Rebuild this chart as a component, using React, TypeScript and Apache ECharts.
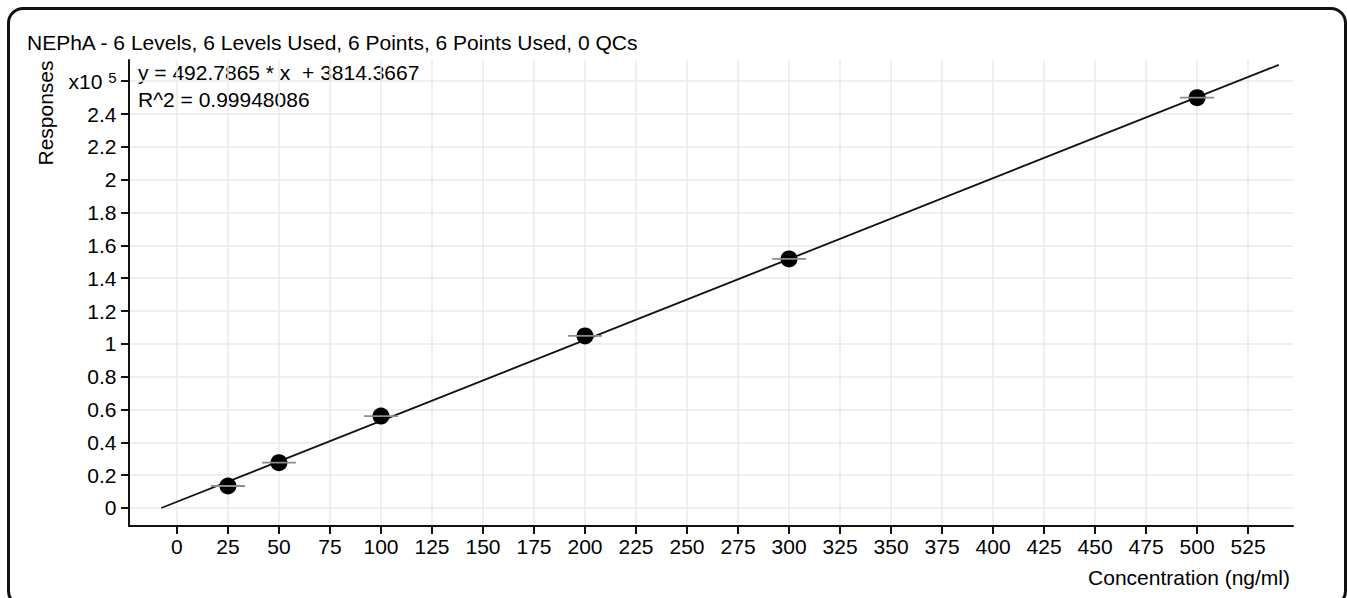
import React, { useEffect, useRef } from "react";
import * as echarts from "echarts";

const concentrations = [25, 50, 100, 200, 300, 500];
const responses = [13400, 27600, 56000, 104800, 151700, 249950];
const fitX = [-7.7, 540];
const fitY = [0, 269900];
const xTicks = [0, 25, 50, 75, 100, 125, 150, 175, 200, 225, 250, 275, 300, 325, 350, 375, 400, 425, 450, 475, 500, 525];
const yTicks = [0, 20000, 40000, 60000, 80000, 100000, 120000, 140000, 160000, 180000, 200000, 220000, 240000, 260000];
const titleText = "NEPhA - 6 Levels, 6 Levels Used, 6 Points, 6 Points Used, 0 QCs";
const equationText = "y = 492.7865 * x  + 3814.3667";
const r2Text = "R^2 = 0.99948086";
const xName = "Concentration (ng/ml)";
const yName = "Responses";

const FONT = "'Liberation Sans', Arial, sans-serif";
const FS = 21;
const INK = "#000";

export default function App() {
  const ref = useRef<HTMLDivElement>(null);
  useEffect(() => {
    if (!ref.current) return;
    const chart = echarts.init(ref.current, null, { renderer: "svg" });
    const axisCommon = {
      axisLine: { show: true, onZero: false, lineStyle: { color: "#111", width: 2 } },
      axisTick: { show: true, length: 8, lineStyle: { color: "#111", width: 2 } },
      splitLine: { show: true, lineStyle: { color: "#eaeaea", width: 1.5 } },
    };
    chart.setOption({
      animation: false,
      backgroundColor: "transparent",
      grid: { left: 129, top: 60, right: 54, bottom: 72, containLabel: false },
      xAxis: {
        type: "value",
        min: -23.5,
        max: 547,
        ...axisCommon,
        axisTick: { ...axisCommon.axisTick, customValues: xTicks },
        axisLabel: {
          customValues: xTicks,
          margin: 10,
          fontSize: FS,
          fontFamily: FONT,
          color: INK,
        },
      },
      yAxis: {
        type: "value",
        min: -10970,
        max: 272900,
        ...axisCommon,
        axisTick: { ...axisCommon.axisTick, customValues: yTicks },
        axisLabel: {
          customValues: yTicks,
          margin: 12.5,
          fontSize: FS,
          fontFamily: FONT,
          color: INK,
          formatter: (v: number) =>
            v === 260000 ? "{a|x10} {b|5}" : String(+(v / 100000).toFixed(1)),
          rich: {
            a: { fontSize: FS, fontFamily: FONT, color: INK },
            b: { fontSize: 15, fontFamily: FONT, color: INK, padding: [0, 0, 8, 0] },
          },
        },
      },
      series: [
        {
          type: "line",
          data: fitX.map((x, i) => [x, fitY[i]]),
          symbol: "none",
          lineStyle: { color: "#111", width: 1.8 },
          z: 1,
        },
        {
          type: "scatter",
          data: concentrations.map((x, i) => [x, responses[i]]),
          symbol: "circle",
          symbolSize: 17,
          itemStyle: { color: "#000", opacity: 1 },
          z: 2,
        },
        {
          type: "scatter",
          data: concentrations.map((x, i) => [x, responses[i]]),
          symbol: "rect",
          symbolSize: [34, 1.8],
          itemStyle: { color: "#8c8c8c", opacity: 1 },
          z: 3,
        },
      ],
      graphic: [
        {
          type: "text",
          left: 27,
          top: 32,
          style: { text: titleText, fontSize: FS, fontFamily: FONT, fill: INK },
        },
        {
          type: "text",
          x: 138,
          y: 72,
          style: { text: equationText, fontSize: FS, fontFamily: FONT, fill: INK, verticalAlign: "middle" },
        },
        {
          type: "text",
          x: 138,
          y: 99,
          style: { text: r2Text, fontSize: FS, fontFamily: FONT, fill: INK, verticalAlign: "middle" },
        },
        {
          type: "text",
          x: 45,
          y: 113,
          rotation: Math.PI / 2,
          style: { text: yName, fontSize: FS, fontFamily: FONT, fill: INK, align: "center", verticalAlign: "middle" },
        },
        {
          type: "text",
          x: 1290,
          y: 577,
          style: { text: xName, fontSize: FS, fontFamily: FONT, fill: INK, align: "right", verticalAlign: "middle" },
        },
      ],
    });
    return () => chart.dispose();
  }, []);

  return (
    <div style={{ position: "fixed", left: 0, top: 0, width: 1347, height: 598, overflow: "hidden", background: "#fff" }}>
      <div
        style={{
          position: "absolute",
          left: 7,
          top: 7,
          width: 1340,
          height: 600,
          border: "3px solid #111",
          borderRadius: 16,
          boxSizing: "border-box",
        }}
      />
      <div ref={ref} style={{ position: "absolute", left: 0, top: 0, width: 1347, height: 598 }} />
    </div>
  );
}
